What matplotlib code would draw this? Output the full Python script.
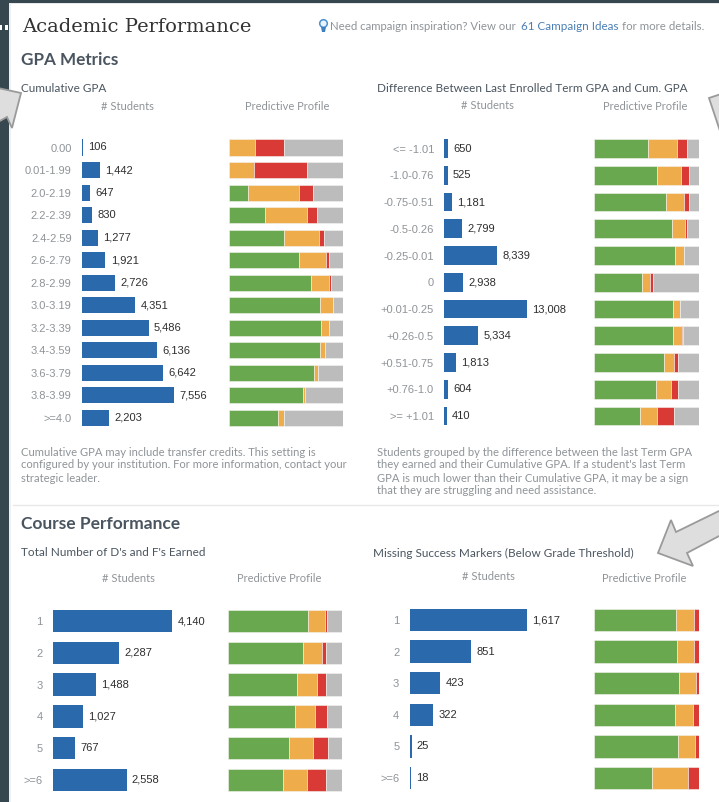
import matplotlib
matplotlib.use("Agg")
import matplotlib.pyplot as plt
from matplotlib.patches import Polygon, Rectangle, Circle

W, H = 719, 802
BLUE, GREEN, ORANGE, RED, GRAY = "#2a69ac", "#69a84f", "#eeac4a", "#d93a36", "#bcbcbc"

gpa_labels = ["0.00", "0.01-1.99", "2.0-2.19", "2.2-2.39", "2.4-2.59", "2.6-2.79", "2.8-2.99",
              "3.0-3.19", "3.2-3.39", "3.4-3.59", "3.6-3.79", "3.8-3.99", ">=4.0"]
gpa_students = [106, 1442, 647, 830, 1277, 1921, 2726, 4351, 5486, 6136, 6642, 7556, 2203]
gpa_green = [0, 0, 16.6, 32, 48.4, 61.5, 72.3, 79.9, 80.8, 79.9, 74.6, 65.3, 43.4]
gpa_orange = [23, 21.6, 45, 36.5, 30.6, 23.3, 15.2, 11.4, 7.3, 4.1, 3.5, 1.7, 4.7]
gpa_red = [25, 47, 12, 9, 4.7, 2.9, 2, 0, 0, 0, 0, 0, 0]
gpa_gray = [52, 31.4, 26.4, 22.5, 16.3, 12.3, 10.5, 8.7, 11.9, 16, 21.9, 33, 51.9]

diff_labels = ["<= -1.01", "-1.0-0.76", "-0.75-0.51", "-0.5-0.26", "-0.25-0.01", "0", "+0.01-0.25",
               "+0.26-0.5", "+0.51-0.75", "+0.76-1.0", ">= +1.01"]
diff_students = [650, 525, 1181, 2799, 8339, 2938, 13008, 5334, 1813, 604, 410]
diff_green = [51, 60.3, 68.6, 74.6, 77.1, 45.7, 75.6, 75.6, 66.7, 59.4, 44.1]
diff_orange = [28, 22.2, 16.8, 11.7, 8.3, 7.9, 6, 8.3, 9.2, 13.7, 16.2]
diff_red = [9.5, 8.3, 5.4, 2.5, 0, 2.9, 0, 1, 4.1, 7, 16.2]
diff_gray = [11.5, 9.2, 9.2, 11.2, 14.6, 43.5, 18.4, 15.1, 20, 19.9, 23.5]

df_labels = ["1", "2", "3", "4", "5", ">=6"]
df_students = [4140, 2287, 1488, 1027, 767, 2558]
df_green = [69.7, 65.9, 60.6, 58.6, 53.4, 48.4]
df_orange = [14.9, 16, 16.9, 17.5, 21, 21]
df_red = [2, 4.1, 7.9, 10.2, 13.4, 16]
df_gray = [13.4, 14, 14.6, 13.7, 12.2, 14.6]

ms_labels = ["1", "2", "3", "4", "5", ">=6"]
ms_students = [1617, 851, 423, 322, 25, 18]
ms_green = [78.1, 79, 81, 77.5, 80, 54.9]
ms_orange = [17.5, 15.9, 16.2, 16.5, 16.5, 34.3]
ms_red = [4.4, 5.1, 2.8, 6, 3.5, 10.8]
ms_gray = [0, 0, 0, 0, 0, 0]

fig = plt.figure(figsize=(W / 100, H / 100), dpi=100, facecolor="white")

# page frame in pixel coordinates
bg = fig.add_axes([0, 0, 1, 1], zorder=0)
bg.set_xlim(0, W); bg.set_ylim(H, 0); bg.axis("off")
DARK = "#37474f"
bg.add_patch(Rectangle((0, 0), W, 3, color=DARK, lw=0))
bg.add_patch(Rectangle((0, 0), 9, H, color=DARK, lw=0))
bg.add_patch(Rectangle((9, 3), 2, H, color="#eef0f1", lw=0))
bg.add_patch(Rectangle((9, 3), W, 1.2, color="#e6e8e9", lw=0))
bg.add_patch(Rectangle((0, 25), 2, 5, color="white", lw=0))
bg.add_patch(Rectangle((5, 25), 3, 5, color="white", lw=0))
bg.plot([13, W], [505, 505], color="#e8e8e8", lw=1)

SANS = "Lato"
ARIAL = "Liberation Sans"
HEAD = "#4a5560"
MUTED = "#8f9498"

def T(x, y, s, size=8, color=MUTED, family=SANS, ha="left", weight="normal"):
    bg.text(x, y, s, fontsize=size, color=color, family=family, ha=ha, va="center", weight=weight)

T(22, 27, "Academic Performance", size=14, color="#333333", family="DejaVu Serif")
T(330, 26.5, "Need campaign inspiration? View our", size=8.2)
T(521, 26.5, "61 Campaign Ideas", size=8.4, color="#4a7fb5")
T(622, 26.5, "for more details.", size=8.3)
bg.add_patch(Circle((323.5, 23.5), 3.8, fc="#eaf3fa", ec="#4a90d0", lw=1.1))
bg.add_patch(Polygon([(321, 27), (326, 27), (325, 32), (322, 32)], color="#3f7fbf", lw=0))

T(21, 60, "GPA Metrics", size=12.3, color=HEAD, weight="bold")
T(21, 524, "Course Performance", size=12.5, color=HEAD, weight="bold")

note_a = ["Cumulative GPA may include transfer credits. This setting is",
          "configured by your institution. For more information, contact your",
          "strategic leader."]
note_b = ["Students grouped by the difference between the last Term GPA",
          "they earned and their Cumulative GPA. If a student's last Term",
          "GPA is much lower than their Cumulative GPA, it may be a sign",
          "that they are struggling and need assistance."]
for i, s in enumerate(note_a):
    T(21, 452 + i * 13, s, size=8.15)
for i, s in enumerate(note_b):
    T(377, 452 + i * 13, s, size=8.15)


def ax_px(x0, x1, ytop, ybot, z=2):
    ax = fig.add_axes([x0 / W, 1 - ybot / H, (x1 - x0) / W, (ybot - ytop) / H], zorder=z)
    ax.patch.set_alpha(0)
    for s in ax.spines.values():
        s.set_visible(False)
    return ax


def panel(labels, students, green, orange, red, gray, bar_x, bar_end, vmax,
          prof_x0, prof_x1, y_first, y_last, title, tx, ty, sx, sy, px, py):
    n = len(labels)
    step = (y_last - y_first) / (n - 1)
    top, bot = y_first - step / 2, y_last + step / 2
    ys = list(range(n))
    a = ax_px(bar_x, W - 2, top, bot)
    a.set_xlim(0, vmax * (W - 2 - bar_x) / (bar_end - bar_x))
    a.set_ylim(n - 0.5, -0.5)
    a.barh(ys, students, height=0.71, color=BLUE, edgecolor="none")
    a.set_xticks([])
    a.set_yticks(ys, labels, fontsize=8, color=MUTED, family=ARIAL)
    a.tick_params(axis="y", length=0, pad=7.5)
    for y, v in zip(ys, students):
        a.annotate(f"{v:,}", (v, y), xytext=(3.8, 0), textcoords="offset points",
                   fontsize=8, color="#2e2e2e", family=ARIAL, va="center", ha="left")
    p = ax_px(prof_x0, prof_x1, top, bot, z=3)
    p.set_xlim(0, 100)
    p.set_ylim(n - 0.5, -0.5)
    p.set_xticks([]); p.set_yticks([])
    left = [0.0] * n
    for vals, col in ((green, GREEN), (orange, ORANGE), (red, RED), (gray, GRAY)):
        p.barh(ys, vals, left=left, height=0.71, color=col, edgecolor="#f4f4f0", linewidth=0.4)
        left = [l + v for l, v in zip(left, vals)]
    T(tx, ty, title, size=8.5, color=HEAD)
    T(sx, sy, "# Students", size=8, ha="center")
    T(px, py, "Predictive Profile", size=8, ha="center")


panel(gpa_labels, gpa_students, gpa_green, gpa_orange, gpa_red, gpa_gray, 82, 174, 7556,
      229, 343, 147.5, 418, "Cumulative GPA", 21, 89, 127, 107, 287, 107)
panel(diff_labels, diff_students, diff_green, diff_orange, diff_red, diff_gray, 444.3, 526.7, 13008,
      594, 699, 148.5, 416, "Difference Between Last Enrolled Term GPA and Cum. GPA",
      377, 89, 487, 105.5, 645, 107)
panel(df_labels, df_students, df_green, df_orange, df_red, df_gray, 53, 172, 4140,
      228, 342.3, 621, 780, "Total Number of D's and F's Earned", 21, 553, 128, 578, 279, 578)
panel(ms_labels, ms_students, ms_green, ms_orange, ms_red, ms_gray, 409.7, 526.7, 1617,
      594, 699, 620, 778, "Missing Success Markers (Below Grade Threshold)",
      373, 553, 488, 576.5, 644, 578)

# callout arrows on top
fg = fig.add_axes([0, 0, 1, 1], zorder=5)
fg.set_xlim(0, W); fg.set_ylim(H, 0); fg.axis("off"); fg.patch.set_alpha(0)
arrows = [[(-2, 88), (21, 93), (12, 128), (7, 117), (-2, 122)],
          [(709, 98), (721, 94), (721, 134)],
          [(658, 553), (671, 520), (676, 532), (721, 510), (721, 535), (687, 553), (693, 566)]]
for pts in arrows:
    fg.add_patch(Polygon(pts, closed=True, fc="#dedede", ec="#9a9a9a", lw=1.3))

fig.savefig("out.png", dpi=100)
